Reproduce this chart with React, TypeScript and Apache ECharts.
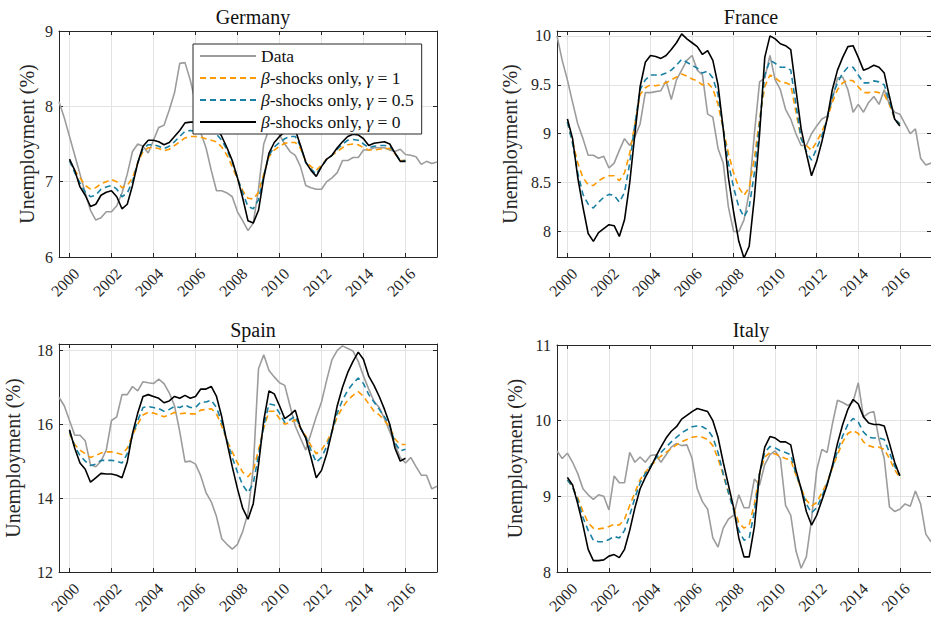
import React, { useEffect, useRef } from "react";
import * as echarts from "echarts";

// ---------- DATA ----------
const DATA_START = 1999.5; // quarterly observations
const MODEL_START = 2000.0; // quarterly model paths
const X_TICKS = [2000, 2002, 2004, 2006, 2008, 2010, 2012, 2014, 2016];
const SERIES_NAMES = ["Data", "β-shocks only, γ = 1", "β-shocks only, γ = 0.5", "β-shocks only, γ = 0"];
const TITLES = ["Germany", "France", "Spain", "Italy"];

const deData = [8.06, 7.85,
  7.60, 7.35, 7.10, 6.85,
  6.62, 6.49, 6.52, 6.60,
  6.60, 6.68, 6.85, 7.10,
  7.40, 7.50, 7.47, 7.38,
  7.55, 7.72, 7.75, 7.95,
  8.18, 8.57, 8.58, 8.35,
  8.05, 7.65, 7.45, 7.15,
  6.88, 6.88, 6.85, 6.80,
  6.60, 6.48, 6.35, 6.45,
  6.90, 7.50, 7.70, 7.72,
  7.62, 7.50, 7.40, 7.35,
  7.20, 6.95, 6.92, 6.90,
  6.90, 7.00, 7.05, 7.12,
  7.28, 7.28, 7.32, 7.32,
  7.42, 7.42, 7.45, 7.45,
  7.45, 7.42, 7.40, 7.43,
  7.36, 7.35, 7.33, 7.23,
  7.27, 7.24, 7.26];
const deG1 = [7.28, 7.15, 7.05, 6.95,
  6.90, 6.92, 6.97, 7.00,
  7.03, 7.00, 6.92, 6.95,
  7.05, 7.25, 7.40, 7.45,
  7.45, 7.44, 7.41, 7.43,
  7.48, 7.53, 7.58, 7.60,
  7.60, 7.59, 7.57, 7.55,
  7.53, 7.46, 7.35, 7.20,
  7.03, 6.88, 6.78, 6.77,
  6.86, 7.10, 7.33, 7.42,
  7.47, 7.51, 7.52, 7.52,
  7.44, 7.27, 7.20, 7.15,
  7.22, 7.30, 7.35, 7.40,
  7.45, 7.49, 7.50, 7.49,
  7.45, 7.42, 7.42, 7.43,
  7.44, 7.44, 7.37, 7.28,
  7.28];
const deG05 = [7.28, 7.12, 6.98, 6.86,
  6.80, 6.82, 6.90, 6.93,
  6.95, 6.90, 6.80, 6.85,
  7.00, 7.25, 7.44, 7.49,
  7.49, 7.47, 7.44, 7.47,
  7.53, 7.60, 7.67, 7.68,
  7.67, 7.66, 7.65, 7.65,
  7.63, 7.55, 7.42, 7.26,
  7.05, 6.85, 6.67, 6.64,
  6.76, 7.08, 7.35, 7.46,
  7.52, 7.57, 7.60, 7.60,
  7.47, 7.25, 7.17, 7.10,
  7.20, 7.30, 7.35, 7.43,
  7.50, 7.55, 7.56, 7.55,
  7.50, 7.45, 7.47, 7.48,
  7.48, 7.47, 7.38, 7.28,
  7.28];
const deG0 = [7.30, 7.15, 6.93, 6.82,
  6.67, 6.70, 6.82, 6.86,
  6.88, 6.80, 6.64, 6.70,
  6.95, 7.25, 7.47, 7.55,
  7.55, 7.53, 7.49, 7.52,
  7.60, 7.68, 7.78, 7.79,
  7.79, 7.78, 7.77, 7.75,
  7.72, 7.60, 7.45, 7.28,
  7.05, 6.78, 6.48, 6.45,
  6.62, 7.05, 7.38, 7.52,
  7.60, 7.66, 7.69, 7.69,
  7.48, 7.26, 7.15, 7.07,
  7.20, 7.30, 7.35, 7.45,
  7.53, 7.60, 7.63, 7.62,
  7.57, 7.48, 7.51, 7.52,
  7.53, 7.50, 7.38, 7.27,
  7.27];

const frData = [10.0, 9.75,
  9.55, 9.32, 9.10, 8.95,
  8.78, 8.78, 8.75, 8.77,
  8.65, 8.70, 8.83, 8.95,
  8.88, 8.97, 9.10, 9.42,
  9.42, 9.43, 9.44, 9.54,
  9.35, 9.55, 9.65, 9.75,
  9.80, 9.65, 9.60, 9.20,
  9.17, 8.85, 8.70, 8.25,
  8.00, 8.00, 8.12, 8.40,
  9.00, 9.53, 9.57, 9.80,
  9.55, 9.45, 9.25, 9.15,
  9.00, 8.88, 8.88, 9.00,
  9.08, 9.15, 9.18, 9.35,
  9.57, 9.58, 9.45, 9.22,
  9.30, 9.22, 9.32, 9.38,
  9.30, 9.45, 9.30, 9.22,
  9.20, 9.10, 9.00, 9.05,
  8.75, 8.68, 8.70];
const frG1 = [9.12, 8.92, 8.70, 8.55,
  8.48, 8.47, 8.52, 8.55,
  8.57, 8.57, 8.52, 8.60,
  8.80, 9.10, 9.40, 9.47,
  9.50, 9.49, 9.50, 9.52,
  9.55, 9.58, 9.61, 9.59,
  9.56, 9.54, 9.50, 9.52,
  9.46, 9.30, 9.05, 8.80,
  8.60, 8.45, 8.37, 8.45,
  8.75, 9.15, 9.48, 9.60,
  9.57, 9.53, 9.52, 9.50,
  9.22, 8.95, 8.88, 8.83,
  8.92, 9.02, 9.15, 9.32,
  9.45, 9.52, 9.55, 9.54,
  9.48, 9.42, 9.42, 9.43,
  9.42, 9.40, 9.30, 9.15,
  9.10];
const frG05 = [9.12, 8.90, 8.60, 8.38,
  8.28, 8.24, 8.30, 8.35,
  8.38, 8.37, 8.30, 8.40,
  8.70, 9.10, 9.45, 9.55,
  9.60, 9.60, 9.60, 9.62,
  9.65, 9.70, 9.76, 9.73,
  9.70, 9.67, 9.62, 9.64,
  9.57, 9.40, 9.05, 8.70,
  8.45, 8.25, 8.15, 8.25,
  8.60, 9.10, 9.60, 9.75,
  9.72, 9.68, 9.68, 9.65,
  9.30, 8.95, 8.82, 8.73,
  8.85, 8.98, 9.15, 9.38,
  9.52, 9.62, 9.68, 9.68,
  9.60, 9.52, 9.52, 9.54,
  9.53, 9.50, 9.33, 9.15,
  9.10];
const frG0 = [9.15, 8.95, 8.55, 8.25,
  7.98, 7.90, 7.99, 8.03,
  8.07, 8.06, 7.95, 8.12,
  8.50, 9.00, 9.48, 9.73,
  9.80, 9.79, 9.77, 9.80,
  9.86, 9.93, 10.02, 9.97,
  9.93, 9.89, 9.81, 9.85,
  9.75, 9.50, 9.05, 8.55,
  8.20, 7.90, 7.73, 7.85,
  8.35, 9.00, 9.78, 10.00,
  9.97, 9.92, 9.90, 9.86,
  9.45, 9.05, 8.80, 8.57,
  8.72, 8.92, 9.15, 9.45,
  9.65, 9.78, 9.89, 9.90,
  9.78, 9.65, 9.67, 9.70,
  9.68, 9.62, 9.38, 9.15,
  9.08];

const esData = [16.73, 16.50,
  16.10, 15.70, 15.70, 15.55,
  14.90, 14.85, 15.00, 15.30,
  16.10, 16.20, 16.80, 16.80,
  17.02, 16.90, 17.15, 17.12,
  17.10, 17.22, 17.10, 16.85,
  16.50, 15.80, 14.98, 15.00,
  14.92, 14.60, 14.15, 13.90,
  13.50, 12.90, 12.75, 12.62,
  12.75, 13.10, 13.60, 14.80,
  17.50, 17.88, 17.45, 17.28,
  17.12, 17.05, 16.50, 15.95,
  15.62, 15.30, 15.75, 16.20,
  16.60, 17.20, 17.75, 18.00,
  18.12, 18.05, 17.98, 17.70,
  17.30, 16.95, 16.62, 16.45,
  16.15, 15.80, 15.45, 15.10,
  14.95, 15.10, 14.85, 14.62,
  14.62, 14.25, 14.32];
const esG1 = [15.75, 15.45, 15.30, 15.20,
  15.10, 15.15, 15.22, 15.25,
  15.25, 15.22, 15.18, 15.35,
  15.70, 16.00, 16.25, 16.32,
  16.30, 16.25, 16.20, 16.25,
  16.32, 16.28, 16.30, 16.28,
  16.28, 16.38, 16.40, 16.42,
  16.28, 15.95, 15.55, 15.25,
  14.95, 14.70, 14.58, 14.75,
  15.30, 15.90, 16.35, 16.35,
  16.15, 16.00, 16.05, 16.12,
  15.90, 15.68, 15.42, 15.20,
  15.30, 15.52, 15.80, 16.20,
  16.45, 16.65, 16.78, 16.88,
  16.75, 16.55, 16.35, 16.25,
  16.10, 15.92, 15.60, 15.45,
  15.45];
const esG05 = [15.80, 15.40, 15.15, 15.00,
  14.88, 14.92, 15.02, 15.02,
  15.02, 15.00, 14.95, 15.20,
  15.70, 16.10, 16.45, 16.48,
  16.45, 16.42, 16.35, 16.40,
  16.48, 16.45, 16.52, 16.45,
  16.45, 16.60, 16.60, 16.65,
  16.45, 16.05, 15.55, 15.10,
  14.70, 14.35, 14.15, 14.40,
  15.15, 15.95, 16.55, 16.52,
  16.30, 16.05, 16.12, 16.22,
  15.90, 15.65, 15.30, 14.97,
  15.10, 15.40, 15.80, 16.30,
  16.65, 16.92, 17.10, 17.25,
  17.10, 16.80, 16.60, 16.40,
  16.20, 15.95, 15.50, 15.28,
  15.32];
const esG0 = [15.85, 15.35, 14.95, 14.78,
  14.43, 14.55, 14.67, 14.65,
  14.65, 14.62, 14.55, 14.98,
  15.75, 16.30, 16.75, 16.80,
  16.75, 16.70, 16.58, 16.63,
  16.75, 16.70, 16.78, 16.70,
  16.75, 16.95, 16.95, 17.02,
  16.75, 16.20, 15.50, 14.85,
  14.25, 13.72, 13.43, 13.85,
  14.90, 16.10, 16.90, 16.82,
  16.50, 16.15, 16.25, 16.38,
  15.90, 15.62, 15.10, 14.55,
  14.75, 15.20, 15.80, 16.50,
  17.00, 17.40, 17.70, 17.95,
  17.75, 17.30, 17.05, 16.75,
  16.40, 16.00, 15.35, 15.00,
  15.08];

const itData = [9.60, 9.50,
  9.57, 9.45, 9.30, 9.10,
  9.02, 8.96, 9.02, 9.00,
  8.82, 9.27, 9.18, 9.18,
  9.58, 9.45, 9.52, 9.45,
  9.54, 9.55, 9.45, 9.55,
  9.65, 9.70, 9.67, 9.68,
  9.50, 9.10, 8.93, 8.83,
  8.45, 8.33, 8.58, 8.70,
  8.75, 9.02, 8.85, 8.85,
  9.23, 9.15, 9.42, 9.55,
  9.60, 9.50, 8.88, 8.75,
  8.28, 8.05, 8.20, 8.70,
  9.35, 9.62, 9.58, 9.95,
  10.27, 10.24, 10.20, 10.25,
  10.50, 10.05, 10.10, 10.12,
  9.75, 9.50, 8.86, 8.80,
  8.83, 8.90, 8.87, 9.07,
  8.90, 8.50, 8.40];
const itG1 = [9.22, 9.12, 8.98, 8.80,
  8.65, 8.58, 8.57, 8.58,
  8.60, 8.63, 8.62, 8.70,
  8.88, 9.05, 9.22, 9.32,
  9.40, 9.47, 9.53, 9.58,
  9.63, 9.68, 9.72, 9.75,
  9.78, 9.79, 9.78, 9.75,
  9.67, 9.50, 9.28, 9.05,
  8.85, 8.65, 8.58, 8.62,
  8.90, 9.30, 9.52, 9.58,
  9.56, 9.53, 9.50, 9.48,
  9.28, 9.10, 8.95, 8.87,
  8.92, 9.05, 9.18, 9.37,
  9.55, 9.72, 9.83, 9.87,
  9.83, 9.72, 9.67, 9.65,
  9.65, 9.62, 9.50, 9.35,
  9.25];
const itG05 = [9.22, 9.12, 8.95, 8.72,
  8.55, 8.42, 8.40, 8.40,
  8.43, 8.47, 8.45, 8.55,
  8.75, 8.98, 9.18, 9.30,
  9.40, 9.50, 9.58, 9.65,
  9.72, 9.78, 9.84, 9.88,
  9.92, 9.93, 9.92, 9.88,
  9.78, 9.58, 9.30, 9.05,
  8.82, 8.55, 8.42, 8.45,
  8.80, 9.30, 9.58, 9.66,
  9.64, 9.60, 9.58, 9.55,
  9.30, 9.10, 8.90, 8.78,
  8.85, 9.00, 9.17, 9.38,
  9.60, 9.80, 9.95, 10.03,
  9.98, 9.85, 9.78, 9.77,
  9.77, 9.75, 9.58, 9.40,
  9.28];
const itG0 = [9.25, 9.15, 8.90, 8.62,
  8.30, 8.15, 8.15, 8.16,
  8.21, 8.23, 8.19, 8.30,
  8.55, 8.85, 9.10, 9.25,
  9.38, 9.52, 9.65, 9.77,
  9.86, 9.92, 10.02, 10.07,
  10.12, 10.16, 10.14, 10.12,
  10.00, 9.78, 9.45, 9.15,
  8.85, 8.45, 8.20, 8.20,
  8.60, 9.30, 9.65, 9.79,
  9.77, 9.72, 9.72, 9.68,
  9.35, 9.10, 8.80, 8.62,
  8.75, 8.95, 9.15, 9.40,
  9.70, 9.95, 10.15, 10.28,
  10.22, 10.05, 9.97, 9.95,
  9.95, 9.93, 9.70, 9.45,
  9.27];

const Y_TICKS = [[6, 7, 8, 9], [8, 8.5, 9, 9.5, 10], [12, 14, 16, 18], [8, 9, 10, 11]];
const Y_RANGE = [[6, 9], [7.74, 10.05], [12, 18.17], [8, 11]];
const PANEL_SERIES = [
  [deData, deG1, deG05, deG0],
  [frData, frG1, frG05, frG0],
  [esData, esG1, esG05, esG0],
  [itData, itG1, itG05, itG0],
];

// ---------- LAYOUT / STYLE ----------
const LAYOUT = [
  { left: 59, top: 31, height: 226, nameGap: 22, titleTop: 2 },
  { left: 557, top: 31, height: 226, nameGap: 37, titleTop: 2 },
  { left: 59, top: 344, height: 228, nameGap: 36, titleTop: 315 },
  { left: 557, top: 345, height: 227, nameGap: 32, titleTop: 315 },
];
const PLOT_W = 378;
const FONT = "Liberation Serif, DejaVu Serif, serif";
const TXT = "#262626";
const GRIDC = "#e3e3e3";
const COLORS = ["#9c9c9c", "#ff9900", "#1a80a3", "#000000"];
const DASHES: any[] = ["solid", [6, 4], [6, 4], "solid"];

const toXY = (start: number, vals: number[]) => vals.map((v, i) => [start + i * 0.25, v]);

function buildOption() {
  const grid: any[] = [];
  const xAxis: any[] = [];
  const yAxis: any[] = [];
  const series: any[] = [];
  const title: any[] = [];

  LAYOUT.forEach((L, k) => {
    grid.push({ left: L.left, top: L.top, width: PLOT_W, height: L.height, containLabel: false });
    title.push({
      text: TITLES[k],
      left: L.left + PLOT_W / 2,
      top: L.titleTop,
      textAlign: "center",
      textStyle: { fontFamily: FONT, fontSize: 20, fontWeight: "normal", color: "#111" },
    });
    const xBase = {
      type: "value",
      gridIndex: k,
      min: 1999.5,
      max: 2017.5,
      axisLine: { show: true, onZero: false, lineStyle: { color: TXT, width: 1 } },
    };
    xAxis.push({
      ...xBase,
      position: "bottom",
      axisTick: { show: true, inside: true, length: 4, customValues: X_TICKS, lineStyle: { color: TXT } },
      axisLabel: {
        customValues: X_TICKS,
        rotate: 45,
        margin: 7,
        verticalAlign: "top",
        padding: [2, 0, 0, 0],
        formatter: (v: number) => String(Math.round(v)),
        fontFamily: FONT,
        fontSize: 16,
        color: TXT,
      },
      splitLine: { show: true, lineStyle: { color: GRIDC, width: 1 } },
    });
    xAxis.push({
      ...xBase,
      position: "top",
      axisTick: { show: true, inside: true, length: 4, customValues: X_TICKS, lineStyle: { color: TXT } },
      axisLabel: { show: false },
      splitLine: { show: false },
    });
    const yBase = {
      type: "value",
      gridIndex: k,
      min: Y_RANGE[k][0],
      max: Y_RANGE[k][1],
      axisLine: { show: true, onZero: false, lineStyle: { color: TXT, width: 1 } },
    };
    yAxis.push({
      ...yBase,
      position: "left",
      name: "Unemployment (%)",
      nameLocation: "middle",
      nameGap: L.nameGap,
      nameTextStyle: { fontFamily: FONT, fontSize: 20, color: TXT },
      axisTick: { show: true, inside: true, length: 4, customValues: Y_TICKS[k], lineStyle: { color: TXT } },
      axisLabel: {
        customValues: Y_TICKS[k],
        margin: 6,
        formatter: (v: number) => String(v),
        fontFamily: FONT,
        fontSize: 16,
        color: TXT,
      },
      splitLine: { show: true, lineStyle: { color: GRIDC, width: 1 } },
    });
    yAxis.push({
      ...yBase,
      position: "right",
      axisTick: { show: true, inside: true, length: 4, customValues: Y_TICKS[k], lineStyle: { color: TXT } },
      axisLabel: { show: false },
      splitLine: { show: false },
    });

    PANEL_SERIES[k].forEach((vals, s) => {
      series.push({
        name: SERIES_NAMES[s],
        type: "line",
        xAxisIndex: 2 * k,
        yAxisIndex: 2 * k,
        data: toXY(s === 0 ? DATA_START : MODEL_START, vals),
        showSymbol: false,
        symbol: "none",
        smooth: false,
        silent: true,
        z: 2 + s,
        lineStyle: { color: COLORS[s], width: 1.6, type: DASHES[s] },
        itemStyle: { color: COLORS[s] },
      });
    });
  });

  return {
    animation: false,
    backgroundColor: "#ffffff",
    title,
    grid,
    xAxis,
    yAxis,
    series,
    legend: {
      data: SERIES_NAMES,
      orient: "vertical",
      left: 193,
      top: 44,
      itemWidth: 56,
      itemHeight: 14,
      itemGap: 4,
      padding: [3, 8, 3, 6],
      backgroundColor: "#ffffff",
      borderColor: TXT,
      borderWidth: 1,
      borderRadius: 0,
      selectedMode: false,
      itemStyle: { opacity: 0 },
      formatter: (name: string) => name.replace("β", "{i|β}").replace("γ", "{i|γ}"),
      textStyle: {
        fontFamily: FONT,
        fontSize: 17.5,
        color: "#111",
        rich: { i: { fontFamily: FONT, fontSize: 17.5, fontStyle: "italic", color: "#111" } },
      },
      z: 10,
    },
  };
}

export default function App() {
  const ref = useRef<HTMLDivElement>(null);
  useEffect(() => {
    if (!ref.current) return;
    const chart = echarts.init(ref.current, null, { renderer: "svg" });
    chart.setOption(buildOption() as any);
    return () => chart.dispose();
  }, []);
  return (
    <div
      ref={ref}
      style={{ position: "fixed", left: 0, top: 0, width: 931, height: 619, background: "#fff" }}
    />
  );
}
